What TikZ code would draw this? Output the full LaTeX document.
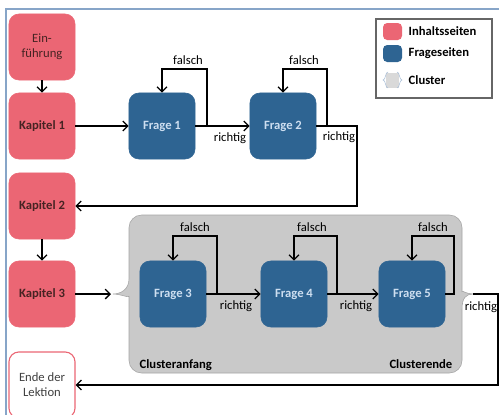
\documentclass[tikz,border=0pt]{standalone}
\usepackage{fontspec}
\setmainfont{Carlito}
\usepackage{tikz}
\usetikzlibrary{calc,arrows.meta}

\definecolor{pinkpage}{RGB}{235,102,116}
\definecolor{bluepage}{RGB}{46,100,146}
\definecolor{clgrey}{RGB}{201,201,201}
\definecolor{clborder}{RGB}{165,165,165}
\definecolor{framecol}{RGB}{135,165,200}
\definecolor{textdark}{RGB}{70,35,35}
\definecolor{textlight}{RGB}{205,222,240}

\begin{document}
\begin{tikzpicture}[x=0.025cm, y=-0.025cm, >={Straight Barb[length=3.5pt,width=7pt]},
    every node/.style={font=\fontsize{9}{10.5}\selectfont},
    page/.style={rectangle, rounded corners=7pt, minimum width=1.65cm, minimum height=1.65cm, align=center, inner sep=1pt},
    ipage/.style={page, fill=pinkpage, draw=pinkpage, text=textdark},
    fpage/.style={page, fill=bluepage, draw=bluepage, text=textlight, font=\fontsize{9}{10.5}\selectfont\bfseries},
    endpage/.style={page, fill=white, draw=pinkpage, thick, text=black!75},
    lbl/.style={inner sep=1pt},
    bold/.style={font=\fontsize{9}{10.5}\selectfont\bfseries},
    conn/.style={line width=0.9pt, ->}]
                \useasboundingbox (0,0) rectangle (499,414);
                % frame
                \draw[framecol, line width=0.8pt] (6,430) -- (6,9) -- (510,9);

                % cluster
                \filldraw[fill=clgrey, draw=clborder, rounded corners=9pt] (129,250) -- (129,215) -- (462,215) -- (462,279)
                    [sharp corners] .. controls (462,290) and (466,294) .. (473,294) .. controls (466,294) and (462,298) .. (462,309)
                    [rounded corners=9pt] -- (462,373) -- (129,373) -- (129,309)
                    [sharp corners] .. controls (129,298) and (120,294) .. (113,294) .. controls (120,294) and (129,290) .. (129,279) -- cycle;
                \node[lbl, bold, anchor=west] (canf) at (138,365) {Clusteranfang};
                \node[lbl, bold, anchor=east] (cend) at (454,364) {Clusterende};
                \coordinate (cin) at (111,294);
                \coordinate (cout) at (473,294);

                % left side
                \node[ipage] (ein) at (42,47) {Ein-\\führung};
                \node[ipage, bold] (k1) at (42,126) {Kapitel 1};
                \node[ipage, bold] (k2) at (42,206) {Kapitel 2};
                \node[ipage, bold] (k3) at (42,294) {Kapitel 3};
                \node[endpage] (ende) at (42,385) {Ende der\\Lektion};

                % questions
                \node[fpage] (f1) at (162,126) {Frage 1};
                \node[fpage] (f2) at (283,126) {Frage 2};
                \node[fpage] (f3) at (173,294) {Frage 3};
                \node[fpage] (f4) at (294,294) {Frage 4};
                \node[fpage] (f5) at (412,294) {Frage 5};

                % legend
                \draw[black!60, fill=white, line width=0.8pt] (376,19) rectangle (492,98);
                \fill[pinkpage, rounded corners=3pt] (383,23) rectangle (402,40);
                \fill[bluepage, rounded corners=3pt] (383,45) rectangle (402,62);
                \fill[clgrey!70] (386,73) rectangle (399,88);
                \draw[framecol!70] (388,72) .. controls (385,72) and (386,80) .. (383,80) .. controls (386,80) and (385,88) .. (388,88);
                \draw[framecol!70] (397,72) .. controls (400,72) and (399,80) .. (402,80) .. controls (399,80) and (400,88) .. (397,88);
                \node[lbl, bold, anchor=west] (li) at (407,31) {Inhaltsseiten};
                \node[lbl, bold, anchor=west] (lf) at (407,53) {Frageseiten};
                \node[lbl, bold, anchor=west] (lc) at (407,80) {Cluster};

                % chapters
                \draw[conn] (ein) -- (k1);
                \draw[conn] (k2) -- (k3);
                \draw[conn] (k1) -- (f1);
                \draw[conn] (k3.east) -- (cin);

                % falsch loops
                \coordinate (l1) at (207,69);
                \coordinate (l2) at (327,69);
                \coordinate (l3) at (217,236);
                \coordinate (l4) at (337,236);
                \coordinate (l5) at (454,236);
                \draw[conn] (f1.east) -| (l1) -| (f1.north);
                \draw[conn] (f2.east) -| (l2) -| (f2.north);
                \draw[conn] (f3.east) -| (l3) -| (f3.north);
                \draw[conn] (f4.east) -| (l4) -| (f4.north);
                \draw[conn] (f5.east) -| (l5) -| (f5.north);
                \node[lbl] (fa1) at (188,60) {falsch};
                \node[lbl] (fa2) at (304,60) {falsch};
                \node[lbl] (fa3) at (195,227) {falsch};
                \node[lbl] (fa4) at (312,227) {falsch};
                \node[lbl] (fa5) at (433,227) {falsch};

                % richtig
                \coordinate (r2) at (357,206);
                \coordinate (r5) at (498,385);
                \draw[conn] (f1) -- (f2);
                \draw[conn] (f2.east) -| (r2) -- (k2.east);
                \draw[conn] (f3) -- (f4);
                \draw[conn] (f4) -- (f5);
                \draw[conn] (cout) -| (r5) -- (ende.east);
                \node[lbl] (ri1) at (230,138) {richtig};
                \node[lbl] (ri2) at (339,137) {richtig};
                \node[lbl] (ri3) at (236,306) {richtig};
                \node[lbl] (ri4) at (356,306) {richtig};
                \node[lbl] (ri5) at (481,307) {richtig};
            \end{tikzpicture}
\end{document}
